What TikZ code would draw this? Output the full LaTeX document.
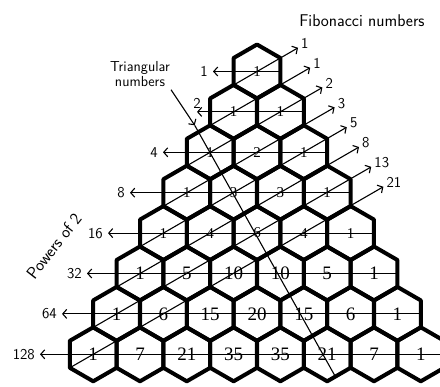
\documentclass[tikz,border=0pt]{standalone}
\usepackage{fontspec}
\setmainfont{Liberation Serif}
\usetikzlibrary{shapes.geometric,arrows.meta,calc}
\begin{document}
\begin{tikzpicture}[x=1pt,y=-1pt,
  hex/.style={regular polygon, regular polygon sides=6, shape border rotate=30,
    minimum size=54pt, inner sep=0pt, draw, line width=4pt, line join=round},
  guide/.style={line width=1.1pt},
  tipped/.style={-{Straight Barb[length=4pt,width=9pt,line width=1.1pt]}},
  hand/.style={font=\sffamily\fontsize{15}{16}\selectfont, inner sep=1pt},
  handbig/.style={font=\sffamily\fontsize{17}{18}\selectfont},
  handlab/.style={font=\sffamily\fontsize{14.5}{15}\selectfont, align=center, inner sep=1pt}]
\useasboundingbox (0,0) rectangle (440,387);

% hexagons with binomial coefficients
\foreach \n in {0,...,7} {
  \foreach \k in {0,...,\n} {
    \pgfmathtruncatemacro\val{round(factorial(\n)/(factorial(\k)*factorial(\n-\k)))}
    \pgfmathtruncatemacro\fs{\n<5 ? 15 : 19}
    \node[hex, font=\fontsize{\fs}{\fs}\selectfont] (h-\n-\k)
      at ({257+(\k-\n/2)*46.8},{71.5+\n*40.4}) {\val};
  }
}

% powers of two: row arrows
\foreach \n/\lx in {0/213,1/197,2/163,3/130,4/108,5/87,6/62,7/40} {
  \coordinate (L-\n) at (\lx,{71.5+\n*40.4});
  \coordinate (R-\n) at ($(h-\n-\n)+(21.5,0)$);
  \draw[guide, tipped] (R-\n) -- (L-\n);
}
\foreach \n/\lab in {0/1,2/4,3/8,4/16,5/32,6/64,7/128} {
  \node[hand, anchor=east] (p-\n) at ($(L-\n)+(-4,0)$) {\lab};
}
\node[hand, anchor=south] (p-1) at ($(L-1)+(0,-2)$) {2};

% Fibonacci shallow diagonals
\foreach \n/\lab in {0/1,1/1,2/2,3/3,4/5,5/8,6/13,7/21} {
  \coordinate (Fs-\n) at ($(h-\n-0)+(-23,13.3)$);
  \coordinate (Fe-\n) at ($(h-\n-0)+({41+35.6*\n},{-(41+35.6*\n)*0.5774})$);
  \draw[guide, tipped] (Fs-\n) -- (Fe-\n);
  \node[hand, anchor=west] (f-\n) at ($(Fe-\n)+(2,-4)$) {\lab};
}

% triangular numbers diagonal
\coordinate (T-s) at ($(h-2-0)+(-15.5,-27)$);
\coordinate (T-e) at ($(h-7-5)+(8,22)$);
\draw[guide] (T-s) -- (T-e);

% labels
\node[handbig] (fib) at (362,21) {Fibonacci numbers};
\node[handlab] (tri) at (140,74) {Triangular\\numbers};
\draw[guide, tipped] ($(tri.south east)+(0,2)$) -- (T-s);
\node[handbig, rotate=52] (pow) at (54,246) {Powers of 2};
\end{tikzpicture}
\end{document}
